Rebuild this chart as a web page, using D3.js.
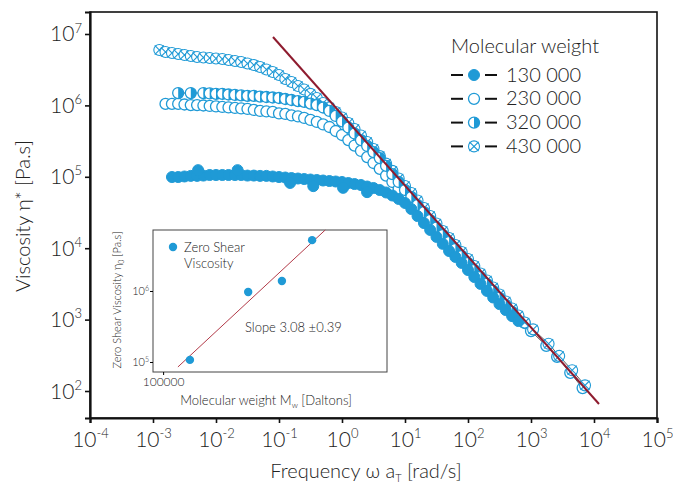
<!DOCTYPE html>
<html lang="en">
<head>
<meta charset="UTF-8">
<title>Viscosity master curves</title>
<script src="https://cdn.jsdelivr.net/npm/d3@7/dist/d3.min.js"></script>
<style>
body { margin: 0; background: #fff; }
text { font-family: Lato, "Open Sans", sans-serif; font-weight: 300; fill: #222; }
</style>
</head>
<body>
<script>
// angular frequency grid (rad/s), 10 points per decade
var freq = [
    1.26e-3, 1.58e-3, 2.00e-3, 2.51e-3, 3.16e-3, 3.98e-3, 5.01e-3, 6.31e-3, 7.94e-3, 1.00e-2,
    1.26e-2, 1.58e-2, 2.00e-2, 2.51e-2, 3.16e-2, 3.98e-2, 5.01e-2, 6.31e-2, 7.94e-2, 1.00e-1,
    1.26e-1, 1.58e-1, 2.00e-1, 2.51e-1, 3.16e-1, 3.98e-1, 5.01e-1, 6.31e-1, 7.94e-1, 1.00,
    1.26, 1.58, 2.00, 2.51, 3.16, 3.98, 5.01, 6.31, 7.94, 10.0,
    12.6, 15.8, 20.0, 25.1, 31.6, 39.8, 50.1, 63.1, 79.4, 100,
    126, 158, 200, 251, 316, 398, 501, 631, 794
];
// complex viscosity (Pa.s) for each molecular weight, aligned with freq
var eta130 = [
    null, null, 9.93e4, 9.93e4, 1.01e5, 1.03e5, 1.03e5, 1.04e5, 1.06e5, 1.06e5,
    1.06e5, 1.06e5, 1.06e5, 1.06e5, 1.04e5, 1.04e5, 1.03e5, 1.03e5, 1.01e5, 9.93e4,
    9.77e4, 9.61e4, 9.46e4, 9.31e4, 9.16e4, 9.02e4, 8.87e4, 8.73e4, 8.59e4, 8.45e4,
    8.18e4, 7.92e4, 7.67e4, 7.31e4, 6.97e4, 6.53e4, 6.03e4, 5.47e4, 4.89e4, 4.30e4,
    3.54e4, 2.82e4, 2.25e4, 1.80e4, 1.44e4, 1.15e4, 9.14e3, 7.54e3, 6.21e3, 4.95e3,
    3.95e3, 3.16e3, 2.52e3, 2.04e3, 1.65e3, 1.36e3, 1.12e3, 9.55e2, null
];
var eta230 = [
    null, 1.05e6, 1.05e6, 1.05e6, 1.03e6, 1.01e6, 1.01e6, 9.97e5, 9.82e5, 9.66e5,
    9.51e5, 9.36e5, 9.21e5, 9.06e5, 8.91e5, 8.63e5, 8.36e5, 8.22e5, 8.09e5, 7.71e5,
    7.59e5, 7.23e5, 7.00e5, 6.67e5, 6.25e5, 5.86e5, 5.41e5, 4.98e5, 4.38e5, 3.85e5,
    3.27e5, 2.74e5, 2.30e5, 1.89e5, 1.56e5, 1.29e5, 1.04e5, 8.45e4, 6.75e4, 5.56e4,
    4.44e4, 3.60e4, 2.87e4, 2.29e4, 1.83e4, 1.46e4, 1.16e4, 9.29e3, 7.41e3, 6.01e3,
    4.80e3, 3.83e3, 3.10e3, 2.52e3, 2.04e3, 1.65e3, 1.32e3, 1.07e3, 8.96e2
];
var eta320 = [
    null, null, null, 1.49e6, null, 1.49e6, null, 1.49e6, 1.47e6, 1.45e6,
    1.45e6, 1.42e6, 1.40e6, 1.38e6, 1.36e6, 1.36e6, 1.33e6, 1.31e6, 1.29e6, 1.27e6,
    1.23e6, 1.19e6, 1.15e6, 1.12e6, 1.06e6, 1.01e6, 9.35e5, 8.36e5, 7.11e5, 5.96e5,
    4.90e5, 4.04e5, 3.27e5, 2.70e5, 2.22e5, 1.83e5, 1.42e5, 1.09e5, 8.45e4, 6.53e4,
    5.21e4, 4.03e4, 3.21e4, 2.48e4, 1.95e4, 1.53e4, 1.22e4, 9.75e3, 7.78e3, 6.21e3,
    4.95e3, 3.95e3, 3.16e3, 2.52e3, 2.01e3, 1.60e3, 1.28e3, null, null
];
var eta430 = [
    5.97e6, 5.60e6, 5.42e6, 5.25e6, 5.08e6, 4.92e6, 4.76e6, 4.69e6, 4.61e6, 4.54e6,
    4.47e6, 4.32e6, 4.19e6, 4.06e6, 3.86e6, 3.68e6, 3.45e6, 3.18e6, 2.94e6, 2.67e6,
    2.34e6, 2.13e6, 1.87e6, 1.67e6, 1.45e6, 1.27e6, 1.08e6, 9.35e5, 8.09e5, 6.78e5,
    5.68e5, 4.68e5, 3.79e5, 3.07e5, 2.45e5, 1.95e5, 1.53e5, 1.21e5, 9.46e4, 7.43e4,
    5.93e4, 4.66e4, 3.66e4, 2.82e4, 2.22e4, 1.74e4, 1.39e4, 1.11e4, 8.85e3, 7.06e3,
    5.64e3, 4.43e3, 3.53e3, 2.82e3, 2.25e3, 1.79e3, 1.43e3, 1.14e3, 9.10e2
];
// overlapping sweeps of the 130 000 sample
var extraFreq130 = [5.2e-3, 2.2e-2, 0.15, 0.35, 1.04, 2.5];
var extraEta130 = [1.24e5, 1.24e5, 8.2e4, 7.4e4, 7.0e4, 6.1e4];
// high frequency tail
var tailFreq230 = [1.0e3, 1.75e3, 2.6e3, 4.2e3, 6.6e3];
var tailEta230 = [6.9e2, 4.3e2, 3.0e2, 1.8e2, 1.1e2];
var tailFreq430 = [1.08e3, 1.9e3, 2.8e3, 4.5e3, 7.2e3];
var tailEta430 = [7.3e2, 4.6e2, 3.1e2, 1.95e2, 1.2e2];
// power law guide line
var guideFreq = [0.0803, 1.2e4];
var guideEta = [9.08e6, 65.8];
// inset: zero shear viscosity
var insetMw = [130000, 230000, 320000, 430000];
var insetEta0 = [1.07e5, 9.7e5, 1.38e6, 5.2e6];
var fitMw = [1.156e5, 4.89e5];
var fitEta = [8.51e4, 7.23e6];

var legendLabels = ['130 000', '230 000', '320 000', '430 000'];
var xTickExps = [-4, -3, -2, -1, 0, 1, 2, 3, 4, 5];
var yTickExps = [2, 3, 4, 5, 6, 7];

var width = 673, height = 487;
var blue = '#1f9ad6';
var darkRed = '#8e1b2e';
var margin = { top: 12, right: 16, bottom: 69, left: 90 };

var svg = d3.select('body').append('svg')
    .attr('width', width)
    .attr('height', height);

var x = d3.scaleLog()
    .domain([1e-4, 1e5])
    .range([margin.left, width - margin.right]);
var y = d3.scaleLog()
    .domain([Math.pow(10, 1.622), Math.pow(10, 7.308)])
    .range([height - margin.bottom, margin.top]);

// frame
svg.append('rect')
    .attr('x', margin.left).attr('y', margin.top)
    .attr('width', width - margin.right - margin.left)
    .attr('height', height - margin.bottom - margin.top)
    .attr('fill', 'none').attr('stroke', '#111').attr('stroke-width', 1.6);

function powLabel(t, e, base, sup) {
    t.text('');
    t.append('tspan').attr('font-size', base).text('10');
    t.append('tspan').attr('font-size', sup).attr('dy', -base * 0.42).text(e);
}

var xAxis = svg.append('g')
    .attr('transform', 'translate(0,' + (height - margin.bottom) + ')')
    .call(d3.axisBottom(x)
        .tickValues(xTickExps.map(function(e) { return Math.pow(10, e); }))
        .tickSizeOuter(0).tickSize(5));
xAxis.select('.domain').attr('stroke', '#111').attr('stroke-width', 2.2);
xAxis.selectAll('.tick line').attr('stroke', '#111').attr('stroke-width', 1.6);
xAxis.selectAll('.tick text').each(function(d, i) {
    var t = d3.select(this).attr('y', 29).attr('dy', null).attr('fill', '#222');
    powLabel(t, xTickExps[i], 21, 13);
});

var yAxis = svg.append('g')
    .attr('transform', 'translate(' + margin.left + ',0)')
    .call(d3.axisLeft(y)
        .tickValues(yTickExps.map(function(e) { return Math.pow(10, e); }))
        .tickSizeOuter(0).tickSize(5));
yAxis.select('.domain').attr('stroke', '#111').attr('stroke-width', 2.2);
yAxis.selectAll('.tick line').attr('stroke', '#111').attr('stroke-width', 1.6);
yAxis.selectAll('.tick text').each(function(d, i) {
    var t = d3.select(this).attr('x', -8).attr('dy', 7).attr('fill', '#222');
    powLabel(t, yTickExps[i], 21, 13);
});

// axis titles
svg.append('text')
    .attr('transform', 'translate(30,216) rotate(-90)')
    .attr('text-anchor', 'middle')
    .attr('font-size', 20)
    .text('Viscosity η* [Pa.s]');
var xt = svg.append('text')
    .attr('x', 366).attr('y', 478)
    .attr('text-anchor', 'middle')
    .attr('font-size', 20);
xt.append('tspan').text('Frequency ω a');
xt.append('tspan').attr('font-size', 11).attr('dy', 4).text('T');
xt.append('tspan').attr('dy', -4).text(' [rad/s]');

// build point lists
function pts(fs, es) {
    var out = [];
    fs.forEach(function(f, i) { if (es[i] != null) out.push([f, es[i]]); });
    return out;
}
var s130 = pts(freq, eta130);
var s230 = pts(freq, eta230).concat(pts(tailFreq230, tailEta230));
var s320 = pts(freq, eta320);
var s430 = pts(freq, eta430).concat(pts(tailFreq430, tailEta430));

var line = d3.line()
    .x(function(d) { return x(d[0]); })
    .y(function(d) { return y(d[1]); });

[s130, s230, s320, s430].forEach(function(s) {
    svg.append('path').datum(s)
        .attr('d', line)
        .attr('fill', 'none').attr('stroke', '#333').attr('stroke-width', 0.8);
});

var R = 5.5;
function drawMarker(g, kind) {
    if (kind === 'filled') {
        g.append('circle').attr('r', R).attr('fill', blue).attr('stroke', blue);
    } else if (kind === 'open') {
        g.append('circle').attr('r', R).attr('fill', '#fff').attr('stroke', blue).attr('stroke-width', 1.3);
    } else if (kind === 'half') {
        g.append('circle').attr('r', R).attr('fill', '#fff').attr('stroke', blue).attr('stroke-width', 1.3);
        g.append('path')
            .attr('d', 'M0,' + (-R) + 'A' + R + ',' + R + ' 0 0,1 0,' + R + 'Z')
            .attr('fill', blue);
    } else {
        g.append('circle').attr('r', R).attr('fill', '#fff').attr('stroke', blue).attr('stroke-width', 1.1);
        g.append('path')
            .attr('d', 'M-4.6,-4.6L4.6,4.6M-4.6,4.6L4.6,-4.6')
            .attr('stroke', blue).attr('stroke-width', 1.1);
    }
}

function drawSeries(data, kind) {
    svg.append('g').selectAll('g')
        .data(data)
        .enter()
        .append('g')
        .attr('transform', function(d) { return 'translate(' + x(d[0]) + ',' + y(d[1]) + ')'; })
        .each(function() { drawMarker(d3.select(this), kind); });
}

drawSeries(s230, 'open');
drawSeries(s430, 'cross');
drawSeries(s320, 'half');
drawSeries(s130, 'filled');
drawSeries(pts(extraFreq130, extraEta130), 'filled');

// power law guide
svg.append('path')
    .datum(pts(guideFreq, guideEta))
    .attr('d', line)
    .attr('stroke', darkRed).attr('stroke-width', 2).attr('fill', 'none');

// legend
var lg = svg.append('g');
lg.append('text').attr('x', 451).attr('y', 53).attr('font-size', 20).text('Molecular weight');
var kinds = ['filled', 'open', 'half', 'cross'];
legendLabels.forEach(function(lab, i) {
    var ly = 75 + i * 23.8;
    lg.append('line').attr('x1', 451).attr('x2', 463).attr('y1', ly).attr('y2', ly)
        .attr('stroke', '#111').attr('stroke-width', 2);
    lg.append('line').attr('x1', 485).attr('x2', 497).attr('y1', ly).attr('y2', ly)
        .attr('stroke', '#111').attr('stroke-width', 2);
    var m = lg.append('g').attr('transform', 'translate(474,' + ly + ')');
    drawMarker(m, kinds[i]);
    lg.append('text').attr('x', 506).attr('y', ly + 6.5).attr('font-size', 20).text(lab);
});

// inset
var ix = d3.scaleLog().domain([Math.pow(10, 4.957), Math.pow(10, 5.952)]).range([153, 387]);
var iy = d3.scaleLog().domain([Math.pow(10, 4.859), Math.pow(10, 6.859)]).range([372, 230]);
var ins = svg.append('g');
ins.append('rect').attr('x', 153).attr('y', 230).attr('width', 234).attr('height', 142)
    .attr('fill', '#fff').attr('stroke', '#444').attr('stroke-width', 1);

var ixAxis = ins.append('g').attr('transform', 'translate(0,372)')
    .call(d3.axisBottom(ix).tickValues([1e5]).tickSize(3).tickSizeOuter(0).tickFormat(d3.format('d')));
ixAxis.select('.domain').remove();
ixAxis.selectAll('.tick text').attr('font-size', 12).attr('y', 5).attr('fill', '#333')
    .style('font-family', 'Lato, sans-serif');
var iyAxis = ins.append('g').attr('transform', 'translate(153,0)')
    .call(d3.axisLeft(iy).tickValues([1e5, 1e6]).tickSize(3).tickSizeOuter(0));
iyAxis.select('.domain').remove();
iyAxis.selectAll('.tick text').each(function(d) {
    var t = d3.select(this).attr('x', -4).attr('dy', 4).attr('fill', '#333')
        .style('font-family', 'Lato, sans-serif');
    powLabel(t, Math.round(Math.log10(d)), 11, 7);
});

ins.append('path')
    .datum(pts(fitMw, fitEta))
    .attr('d', d3.line().x(function(d) { return ix(d[0]); }).y(function(d) { return iy(d[1]); }))
    .attr('stroke', '#b23a48').attr('stroke-width', 1).attr('fill', 'none');

ins.selectAll('.zsv')
    .data(pts(insetMw, insetEta0))
    .enter()
    .append('circle')
    .attr('cx', function(d) { return ix(d[0]); })
    .attr('cy', function(d) { return iy(d[1]); })
    .attr('r', 4.2)
    .attr('fill', blue);

ins.append('circle').attr('cx', 173).attr('cy', 247).attr('r', 4.2).attr('fill', blue);
ins.append('text').attr('x', 184).attr('y', 252).attr('font-size', 13).text('Zero Shear');
ins.append('text').attr('x', 184).attr('y', 268).attr('font-size', 13).text('Viscosity');
ins.append('text').attr('x', 245).attr('y', 332).attr('font-size', 13).text('Slope 3.08 ±0.39');

var iyl = ins.append('text')
    .attr('transform', 'translate(121,300) rotate(-90)')
    .attr('text-anchor', 'middle').attr('font-size', 11);
iyl.append('tspan').text('Zero Shear Viscosity η');
iyl.append('tspan').attr('font-size', 7).attr('dy', 3).text('0');
iyl.append('tspan').attr('dy', -3).text(' [Pa.s]');

var ixl = ins.append('text')
    .attr('x', 266).attr('y', 405)
    .attr('text-anchor', 'middle').attr('font-size', 13);
ixl.append('tspan').text('Molecular weight M');
ixl.append('tspan').attr('font-size', 8).attr('dy', 3).text('w');
ixl.append('tspan').attr('dy', -3).text(' [Daltons]');
</script>
</body>
</html>
